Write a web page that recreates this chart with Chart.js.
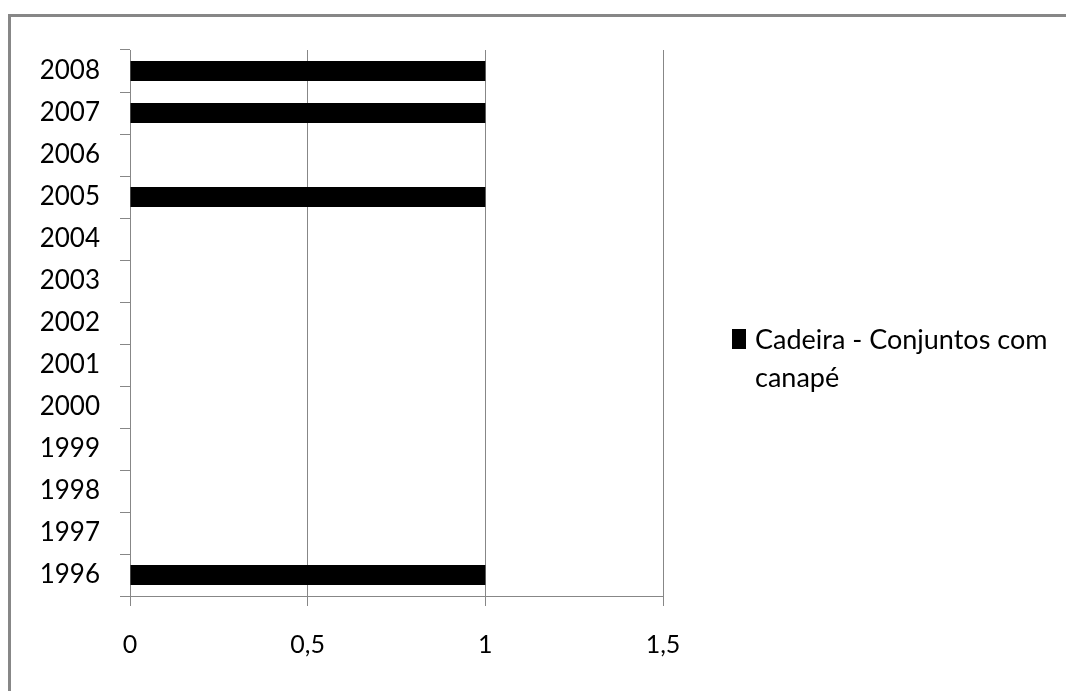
<!DOCTYPE html>
<html>
<head>
<meta charset="utf-8">
<script src="https://cdn.jsdelivr.net/npm/chart.js@4/dist/chart.umd.min.js"></script>
<style>
  html, body { margin: 0; padding: 0; background: #fff; overflow: hidden; }
  #frame {
    position: absolute; left: 8px; top: 14px;
    width: 1200px; height: 800px;
    border: 3px solid #878787;
  }
  #chart { position: absolute; left: 0; top: 0; }
</style>
</head>
<body>
<div id="frame"></div>
<canvas id="chart" width="1066" height="691"></canvas>
<script>
// 年份 (从下到上)
const years = ['1996', '1997', '1998', '1999', '2000', '2001', '2002',
               '2003', '2004', '2005', '2006', '2007', '2008'];
// 数值
const values = [1, 0, 0, 0, 0, 0, 0, 0, 0, 1, 0, 1, 1];
const seriesName = ['Cadeira - Conjuntos com', 'canapé'];
const xTicks = [0, 0.5, 1, 1.5];

const FONT = 'Lato, "Open Sans", sans-serif';
const GRID = '#878787';

// 右侧图例（两行文字）
const sideLegend = {
  id: 'sideLegend',
  afterDraw(chart) {
    const ctx = chart.ctx;
    const ds = chart.data.datasets[0];
    ctx.save();
    ctx.fillStyle = ds.backgroundColor;
    ctx.fillRect(732, 329, 14, 20);
    ctx.fillStyle = '#000';
    ctx.font = '27px ' + FONT;
    ctx.textBaseline = 'middle';
    ctx.textAlign = 'left';
    ds.label.forEach((line, i) => {
      ctx.fillText(line, 755, 340 + i * 38);
    });
    ctx.restore();
  }
};

new Chart(document.getElementById('chart'), {
  type: 'bar',
  data: {
    labels: years,
    datasets: [{
      label: seriesName,
      data: values,
      backgroundColor: '#000',
      borderWidth: 0,
      barPercentage: 0.48,
      categoryPercentage: 1
    }]
  },
  options: {
    indexAxis: 'y',
    responsive: false,
    animation: false,
    devicePixelRatio: 1,
    layout: { padding: { top: 50, right: 403, bottom: 0, left: 0 } },
    plugins: {
      legend: { display: false },
      tooltip: { enabled: false }
    },
    scales: {
      x: {
        min: 0,
        max: 1.5,
        afterFit(scale) { scale.height = 95; },
        afterBuildTicks(scale) { scale.ticks = xTicks.map(v => ({ value: v })); },
        grid: { color: GRID, tickLength: 10, lineWidth: 1 },
        border: { color: GRID, width: 1 },
        ticks: {
          color: '#000',
          font: { family: FONT, size: 25 },
          padding: 24,
          callback: v => String(v).replace('.', ',')
        }
      },
      y: {
        reverse: true,
        afterFit(scale) { scale.width = 130; },
        grid: { drawOnChartArea: false, color: GRID, tickLength: 10 },
        border: { color: GRID, width: 1 },
        ticks: {
          color: '#000',
          font: { family: FONT, size: 26 },
          padding: 20
        }
      }
    }
  },
  plugins: [sideLegend]
});
</script>
</body>
</html>
